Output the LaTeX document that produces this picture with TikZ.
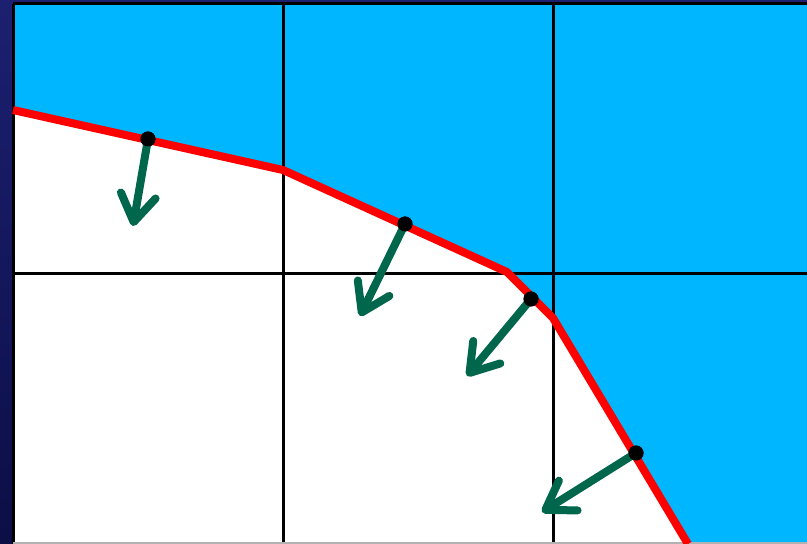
\documentclass[tikz,border=0pt]{standalone}
\usetikzlibrary{arrows.meta}
\definecolor{navytop}{RGB}{28,32,112}
\definecolor{navybot}{RGB}{12,14,70}
\definecolor{skyfill}{RGB}{0,183,255}
\definecolor{normgreen}{RGB}{0,102,76}
\begin{document}
\begin{tikzpicture}[x=0.03cm, y=-0.03cm,
  grid/.style={line width=3*0.03cm, black},
  edge/.style={line width=8*0.03cm, red, line join=round},
  pt/.style={circle, fill=black, inner sep=0pt, minimum size=15*0.03cm},
  normal/.style={normgreen, line width=8*0.03cm, line cap=round,
    -{Straight Barb[length=23pt, width=30pt, round]}},
]
\useasboundingbox (0,0) rectangle (807,544);

% ====== background ======
\shade[top color=navytop, bottom color=navybot] (0,0) rectangle (807,544);

% ====== cells ======
\coordinate (v0) at (13,110);
\coordinate (v1) at (283,170);
\coordinate (v2) at (507,272);
\coordinate (v3) at (553,318);
\coordinate (v4) at (688,544);
\fill[white] (13,4) rectangle (807,544);
\fill[skyfill] (13,4) -- (807,4) -- (807,544) -- (v4) -- (v3) -- (v2) -- (v1) -- (v0) -- cycle;

% ====== grid ======
\foreach \x in {13,283,553} {
  \draw[grid] (\x,4) -- (\x,544);
}
\foreach \y in {4,274} {
  \draw[grid] (13,\y) -- (807,\y);
}
\draw[gray!60, line width=2*0.03cm] (13,543) -- (807,543);

% ====== interface ======
\draw[black, thick] ([yshift=-3*0.03cm]v0) -- ([yshift=-3*0.03cm]v1)
  -- ([yshift=-3*0.03cm]v2) -- ([yshift=-3*0.03cm]v3) -- ([yshift=-3*0.03cm]v4);
\draw[edge] (v0) -- (v1) -- (v2) -- (v3) -- (v4);

% ====== normals ======
\node[pt] (p1) at (148,139) {};
\node[pt] (p2) at (405,224) {};
\node[pt] (p3) at (531,299) {};
\node[pt] (p4) at (636,453) {};
\coordinate (n1) at (133,226);
\coordinate (n2) at (360,316);
\coordinate (n3) at (467,376);
\coordinate (n4) at (542,512);
\foreach \i in {1,...,4} {
  \draw[normal] (p\i.center) -- (n\i);
}
\foreach \i in {1,...,4} {
  \node[pt] at (p\i) {};
}

\end{tikzpicture}
\end{document}
